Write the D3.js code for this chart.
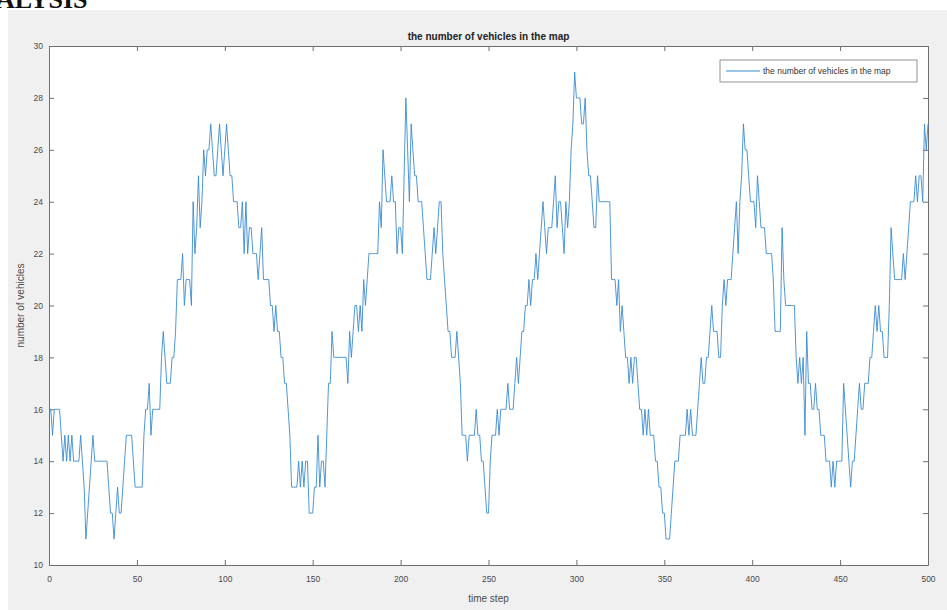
<!DOCTYPE html>
<html>
<head>
<meta charset="utf-8">
<script src="https://cdn.jsdelivr.net/npm/d3@7"></script>
<style>
  body { margin: 0; background: #fff; }
  svg { display: block; font-family: "Liberation Sans", Arial, sans-serif; }
</style>
</head>
<body>
<svg id="chart" width="947" height="610"></svg>
<script>
// number of vehicles at each time step 0..500
var vehicles = [
  16,16,15,16,16,16,16,15,14,15,14,15,14,15,14,14,14,14,15,14,13,11,12,13,14,
  15,14,14,14,14,14,14,14,14,13,12,12,11,12,13,12,12,13,14,15,15,15,15,14,13,
  13,13,13,13,15,16,16,17,15,16,16,16,16,16,18,19,18,17,17,17,18,18,19,21,21,
  21,22,20,21,21,21,20,24,22,23,25,23,24,26,25,26,26,27,26,25,25,26,27,26,25,
  26,27,26,25,25,24,24,24,23,23,24,22,24,22,23,23,22,22,22,21,22,23,21,21,21,
  21,20,20,19,20,19,19,18,18,17,17,16,15,13,13,13,13,14,13,14,13,14,14,12,12,
  12,13,13,15,13,14,14,13,15,17,17,19,18,18,18,18,18,18,18,18,17,19,18,19,20,
  20,19,20,19,21,20,21,22,22,22,22,22,22,24,23,26,25,24,24,24,25,24,24,22,23,
  23,22,25,28,26,24,27,26,25,25,24,24,24,23,22,21,21,21,22,23,22,23,24,24,22,
  21,20,19,19,18,18,18,19,18,17,15,15,15,14,15,15,15,15,16,15,15,14,14,13,12,
  12,14,15,15,15,16,15,16,16,16,16,17,16,16,16,17,18,17,18,19,19,20,20,21,20,
  21,21,22,21,22,23,24,23,22,23,23,23,24,25,23,24,24,23,22,24,23,24,26,27,29,
  28,28,28,27,27,28,26,25,25,24,23,23,25,24,24,24,24,24,24,24,21,21,21,20,21,
  19,20,19,18,18,17,18,17,18,18,17,16,16,15,16,15,16,15,15,15,14,14,13,13,12,
  12,11,11,11,12,13,14,14,14,15,15,15,15,16,15,16,15,15,15,16,17,18,17,17,18,
  18,19,20,19,19,19,18,18,20,21,20,21,21,21,22,23,24,22,24,25,27,26,26,25,24,
  24,24,23,25,24,23,23,23,22,22,22,22,21,19,19,19,19,23,21,20,20,20,20,20,20,
  18,17,18,17,18,15,19,17,17,16,16,17,16,16,15,15,15,14,14,14,13,14,13,14,14,
  14,14,17,16,15,14,13,14,14,15,16,17,16,16,17,17,17,18,18,19,20,19,20,19,19,
  18,18,18,20,23,22,21,21,21,21,21,22,21,22,23,24,24,24,25,24,25,25,24,27,26,27
];
var xTicks = [0, 50, 100, 150, 200, 250, 300, 350, 400, 450, 500];
var yTicks = [10, 12, 14, 16, 18, 20, 22, 24, 26, 28, 30];

var titleText = "the number of vehicles in the map";
var legendLabel = "the number of vehicles in the map";

var svg = d3.select("#chart");

// plot box
var box = {left: 49, right: 928, top: 46, bottom: 565};
var lineColor = "#3a8bd0";
var axisColor = "#6f6f6f";
var labelColor = "#4a4a4a";

// page text cut off at the top
svg.append("text")
    .attr("x", -4).attr("y", 8)
    .attr("font-family", "Liberation Serif, Times New Roman, serif")
    .attr("font-weight", "bold")
    .attr("font-size", 26)
    .attr("fill", "#111")
    .text("ALYSIS");

// figure background
svg.append("rect")
    .attr("x", 8).attr("y", 10)
    .attr("width", 939).attr("height", 600)
    .attr("fill", "#f0f0f0");

svg.append("rect")
    .attr("x", box.left).attr("y", box.top)
    .attr("width", box.right - box.left).attr("height", box.bottom - box.top)
    .attr("fill", "#fff");

var x = d3.scaleLinear().domain([0, 500]).range([box.left, box.right]);
var y = d3.scaleLinear().domain([10, 30]).range([box.bottom, box.top]);

function styleAxis(g) {
    g.select(".domain").attr("stroke", axisColor);
    g.selectAll(".tick line").attr("stroke", axisColor);
    g.selectAll(".tick text")
        .attr("fill", labelColor)
        .attr("font-size", 8.5)
        .attr("font-family", "Liberation Sans, Arial, sans-serif");
}

// bottom / left with labels, ticks pointing inward
svg.append("g")
    .attr("transform", "translate(0," + box.bottom + ")")
    .call(d3.axisBottom(x).tickValues(xTicks).tickSizeInner(-5).tickSizeOuter(0).tickPadding(11))
    .call(styleAxis);

svg.append("g")
    .attr("transform", "translate(" + box.left + ",0)")
    .call(d3.axisLeft(y).tickValues(yTicks).tickSizeInner(-5).tickSizeOuter(0).tickPadding(6))
    .call(styleAxis);

// top / right box edges with ticks only
svg.append("g")
    .attr("transform", "translate(0," + box.top + ")")
    .call(d3.axisTop(x).tickValues(xTicks).tickSizeInner(-5).tickSizeOuter(0).tickFormat(""))
    .call(styleAxis);

svg.append("g")
    .attr("transform", "translate(" + box.right + ",0)")
    .call(d3.axisRight(y).tickValues(yTicks).tickSizeInner(-5).tickSizeOuter(0).tickFormat(""))
    .call(styleAxis);

// the series
var line = d3.line()
    .x(function(d, i) { return x(i); })
    .y(function(d) { return y(d); });

svg.append("path")
    .datum(vehicles)
    .attr("d", line)
    .attr("fill", "none")
    .attr("stroke", lineColor)
    .attr("stroke-width", 0.9);

// title and axis labels
svg.append("text")
    .attr("x", (box.left + box.right) / 2).attr("y", 40)
    .attr("text-anchor", "middle")
    .attr("font-size", 10)
    .attr("font-weight", "bold")
    .attr("fill", "#222")
    .text(titleText);

svg.append("text")
    .attr("x", (box.left + box.right) / 2).attr("y", 602)
    .attr("text-anchor", "middle")
    .attr("font-size", 10)
    .attr("fill", labelColor)
    .text("time step");

svg.append("text")
    .attr("transform", "translate(24," + ((box.top + box.bottom) / 2) + ")rotate(-90)")
    .attr("text-anchor", "middle")
    .attr("font-size", 10)
    .attr("fill", labelColor)
    .text("number of vehicles");

// legend
var legend = svg.append("g").attr("transform", "translate(720,60)");
legend.append("rect")
    .attr("width", 197).attr("height", 22)
    .attr("fill", "#fff")
    .attr("stroke", "#777")
    .attr("stroke-width", 0.8);
legend.append("line")
    .attr("x1", 6).attr("x2", 40)
    .attr("y1", 11).attr("y2", 11)
    .attr("stroke", lineColor);
legend.append("text")
    .attr("x", 43).attr("y", 14)
    .attr("font-size", 8.5)
    .attr("fill", "#333")
    .text(legendLabel);
</script>
</body>
</html>
